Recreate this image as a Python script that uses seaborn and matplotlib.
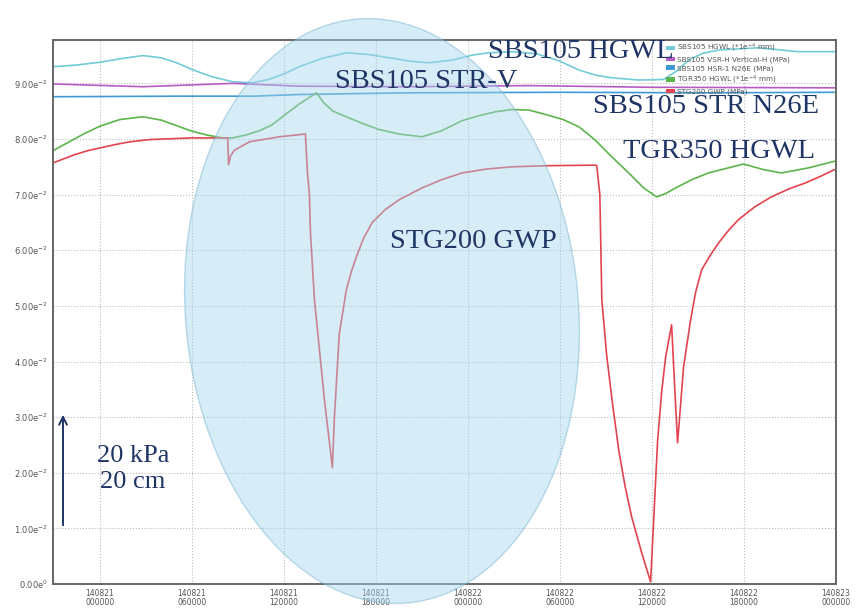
import pandas as pd
import seaborn as sns
import matplotlib.pyplot as plt
from matplotlib.patches import Ellipse, Patch

# Số liệu (giờ tính từ 140821 000000)
cyan_t = [-3.06, -1.5, 0, 1.5, 2.8, 4.0, 5.0, 6.0, 7.3, 8.65, 9.95, 11.0, 12.0, 13.0, 14.5, 16.07,
          17.5, 18.87, 20.2, 21.47, 23.0, 24.3, 25.37, 27.0, 28.5, 30.0, 31.23, 32.3, 33.38, 35.13,
          36.76, 37.6, 38.39, 39.3, 40.34, 42.94, 45.54, 47.9]
cyan_v = [0.0930, 0.0933, 0.0938, 0.0945, 0.0950, 0.0946, 0.0937, 0.0925, 0.0912, 0.0903, 0.0901, 0.0907,
          0.0917, 0.0930, 0.0945, 0.0955, 0.0952, 0.0946, 0.0940, 0.0937, 0.0942, 0.0951, 0.0955, 0.0957,
          0.0953, 0.0940, 0.0924, 0.0915, 0.0910, 0.0906, 0.0907, 0.0922, 0.0942, 0.0954, 0.0960,
          0.0964, 0.0957, 0.0957]

purple_t = [-3.06, 2.8, 8.65, 13.0, 20.0, 28.0, 36.0, 48.0]
purple_v = [0.0899, 0.0894, 0.0900, 0.0895, 0.0894, 0.0896, 0.0893, 0.0892]

blue_t = [-3.06, 5.0, 10.0, 13.0, 20.0, 30.0, 40.0, 48.0]
blue_v = [0.0876, 0.0877, 0.0877, 0.0880, 0.0883, 0.0884, 0.0883, 0.0884]

green_t = [-3.06, -2.0, -1.0, 0, 1.3, 2.8, 4.0, 5.0, 6.0, 7.0, 8.0, 8.65, 9.5, 10.41, 11.2, 11.9,
           13.0, 14.12, 14.6, 15.2, 16.07, 17.2, 18.22, 19.5, 21.0, 22.3, 23.62, 24.72, 25.8, 26.87,
           27.98, 29.08, 30.2, 31.23, 32.3, 33.38, 34.48, 35.46, 36.3, 36.9, 37.54, 38.6, 39.69,
           40.53, 41.97, 43.27, 44.44, 46.19, 47.9]
green_v = [0.0779, 0.0795, 0.0810, 0.0823, 0.0835, 0.0840, 0.0834, 0.0824, 0.0814, 0.0807, 0.0802, 0.0802,
           0.0807, 0.0815, 0.0825, 0.0840, 0.0863, 0.0883, 0.0865, 0.0850, 0.0840, 0.0827, 0.0817, 0.0809,
           0.0804, 0.0815, 0.0833, 0.0842, 0.0849, 0.0853, 0.0852, 0.0844, 0.0835, 0.0822, 0.0798, 0.0768,
           0.0739, 0.0712, 0.0696, 0.0702, 0.0712, 0.0727, 0.0739, 0.0745, 0.0755, 0.0745, 0.0739,
           0.0748, 0.0760]

red_t = [-3.06, -2.3, -1.63, -0.8, 0, 1.0, 1.95, 3.25, 5.99, 8.33, 8.39, 8.52, 8.78, 9.76, 11.71,
         13.40, 13.53, 13.66, 13.73, 13.99, 14.64, 15.16, 15.29, 15.61, 16.07, 16.4, 16.72, 17.2,
         17.76, 18.6, 19.52, 21.0, 22.3, 23.62, 25.2, 26.87, 29.08, 32.34, 32.40, 32.60, 32.73,
         33.05, 33.4, 33.83, 34.25, 34.68, 35.33, 35.91, 36.37, 36.63, 36.89, 37.28, 37.47, 37.67,
         38.06, 38.52, 38.85, 39.24, 39.8, 40.34, 41.0, 41.64, 42.7, 43.79, 44.9, 46.0, 47.0, 47.9]
red_v = [0.0757, 0.0765, 0.0772, 0.0779, 0.0784, 0.0790, 0.0795, 0.0799, 0.0802, 0.0802, 0.0754, 0.0770,
         0.0780, 0.0795, 0.0804, 0.0809, 0.0740, 0.0700, 0.0631, 0.0511, 0.0331, 0.0209, 0.0300, 0.0450,
         0.0529, 0.0562, 0.0588, 0.0622, 0.0650, 0.0673, 0.0691, 0.0712, 0.0727, 0.0739, 0.0746, 0.0750,
         0.0752, 0.0753, 0.0752, 0.0700, 0.0511, 0.0410, 0.0330, 0.0241, 0.0175, 0.0120, 0.0056, 0.0004,
         0.0259, 0.0345, 0.0408, 0.0466, 0.0360, 0.0254, 0.0390, 0.0475, 0.0525, 0.0565, 0.0591, 0.0613,
         0.0636, 0.0655, 0.0678, 0.0696, 0.0710, 0.0721, 0.0733, 0.0745]

series_names = ["SBS105 HGWL (*1e$^{-4}$ mm)", "SBS105 VSR-H Vertical-H (MPa)",
                "SBS105 HSR-1 N26E (MPa)", "TGR350 HGWL (*1e$^{-4}$ mm)", "STG200 GWP (MPa)"]
series_colors = ["#72cbd8", "#b45cc4", "#3f9ad6", "#5cb54a", "#e2434e"]

xtick_hours = [0, 6, 12, 18, 24, 30, 36, 42, 48]
xtick_labels = ["140821\n000000", "140821\n060000", "140821\n120000", "140821\n180000",
                "140822\n000000", "140822\n060000", "140822\n120000", "140822\n180000",
                "140823\n000000"]
ytick_vals = [0, 0.01, 0.02, 0.03, 0.04, 0.05, 0.06, 0.07, 0.08, 0.09]
ytick_labels = ["0.00e$^{0}$"] + ["%d.00e$^{-2}$" % k for k in range(1, 10)]

frames = []
for name, t, v in zip(series_names,
                      [cyan_t, purple_t, blue_t, green_t, red_t],
                      [cyan_v, purple_v, blue_v, green_v, red_v]):
    frames.append(pd.DataFrame({"t": t, "v": v, "series": name}))
df = pd.concat(frames, ignore_index=True)

sns.set_style("white")
fig = plt.figure(figsize=(8.61, 6.08), dpi=100)
ax = fig.add_axes([53 / 861, 24 / 608, 783 / 861, 544 / 608])

sns.lineplot(data=df, x="t", y="v", hue="series", hue_order=series_names,
             palette=series_colors, estimator=None, sort=False, linewidth=1.2,
             legend=False, ax=ax)

ax.set_xlim(-3.06, 48)
ax.set_ylim(0, 0.0978)
ax.set_xticks(xtick_hours)
ax.set_xticklabels(xtick_labels, fontsize=5.5, color="#555555", linespacing=1.0)
ax.set_xticks([h for h in range(-2, 48, 2) if h % 6 != 0], minor=True)
ax.set_yticks(ytick_vals)
ax.set_yticklabels(ytick_labels, fontsize=6, color="#555555")
ax.tick_params(axis="both", which="both", direction="inout", length=3, width=0.8, color="#555555", pad=2)
ax.set_xlabel("")
ax.set_ylabel("")
ax.grid(True, which="major", linestyle=":", color="#bbbbbb", linewidth=0.8)
for side in ["left", "bottom", "top", "right"]:
    ax.spines[side].set_color("#666666")
    ax.spines[side].set_linewidth(1.4)

handles = [Patch(facecolor=c, edgecolor="none") for c in series_colors]
ax.legend(handles, series_names, loc="upper left", bbox_to_anchor=(0.775, 1.008),
          frameon=False, fontsize=5.2, handlelength=1.2, handleheight=0.6,
          labelspacing=0.3, handletextpad=0.3, labelcolor="#555555")

# Vùng elip đánh dấu
ell = Ellipse((3.82, (608 - 311) / 100), 3.93, 5.86, angle=5,
              transform=fig.dpi_scale_trans, facecolor="#a6d5ec", alpha=0.45,
              edgecolor="#6fb0cf", linewidth=1.0, zorder=5)
fig.add_artist(ell)

navy = "#1f3565"
labels = [("SBS105 HGWL", 488, 58), ("SBS105 STR-V", 335, 88), ("SBS105 STR N26E", 593, 113),
          ("TGR350 HGWL", 623, 158), ("STG200 GWP", 390, 248)]
for txt, px, py in labels:
    fig.text(px / 861, 1 - py / 608, txt, family="Liberation Serif", fontsize=20.5,
             color=navy, va="baseline", ha="left", zorder=6)
fig.text(133 / 861, 1 - 462 / 608, "20 kPa", family="Liberation Serif", fontsize=19,
         color=navy, va="baseline", ha="center", zorder=6)
fig.text(133 / 861, 1 - 488 / 608, "20 cm", family="Liberation Serif", fontsize=19,
         color=navy, va="baseline", ha="center", zorder=6)

ax.annotate("", xy=(63 / 861, 1 - 412 / 608), xytext=(63 / 861, 1 - 528 / 608),
            xycoords="figure fraction", textcoords="figure fraction",
            arrowprops=dict(arrowstyle="->", color=navy, linewidth=1.4, mutation_scale=14))

fig.savefig("out.png", dpi=100)
